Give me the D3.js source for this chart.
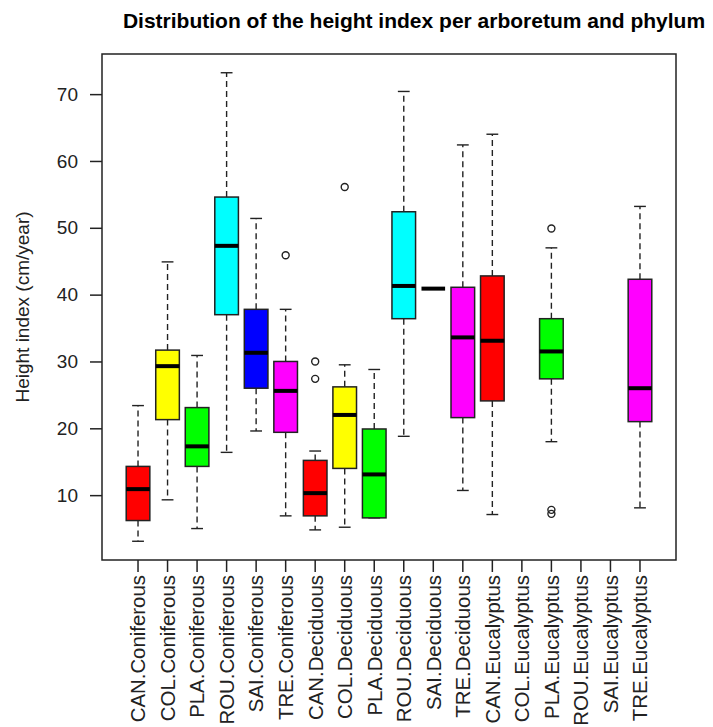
<!DOCTYPE html>
<html>
<head>
<meta charset="utf-8">
<script src="https://cdn.jsdelivr.net/npm/d3@7"></script>
<style>
  body { margin: 0; background: #fff; }
  svg text { font-family: "Liberation Sans", Arial, sans-serif; fill: #000; }
</style>
</head>
<body>
<div id="chart"></div>
<script>
const categories = [
    "CAN.Coniferous", "COL.Coniferous", "PLA.Coniferous", "ROU.Coniferous", "SAI.Coniferous", "TRE.Coniferous",
    "CAN.Deciduous", "COL.Deciduous", "PLA.Deciduous", "ROU.Deciduous", "SAI.Deciduous", "TRE.Deciduous",
    "CAN.Eucalyptus", "COL.Eucalyptus", "PLA.Eucalyptus", "ROU.Eucalyptus", "SAI.Eucalyptus", "TRE.Eucalyptus"
];
const arboretumColors = { CAN: "#ff0000", COL: "#ffff00", PLA: "#00ff00", ROU: "#00ffff", SAI: "#0000ff", TRE: "#ff00ff" };

// five-number summaries (null = no trees)
const whiskerLow  = [3.1, 9.3, 5.0, 16.4, 19.6, 6.9,   4.8, 5.2, 6.6, 18.8, 40.9, 10.7,   7.1, null, 18.0, null, null, 8.1];
const lowerQuart  = [6.2, 21.3, 14.3, 37.0, 26.0, 19.4, 6.9, 14.0, 6.6, 36.4, 40.9, 21.6,  24.1, null, 27.4, null, null, 21.0];
const medians     = [10.9, 29.3, 17.3, 47.3, 31.3, 25.6, 10.3, 22.0, 13.1, 41.3, 40.9, 33.6, 33.1, null, 31.5, null, null, 26.0];
const upperQuart  = [14.3, 31.7, 23.1, 54.6, 37.8, 30.0, 15.2, 26.2, 19.9, 52.4, 40.9, 41.1, 42.8, null, 36.4, null, null, 42.3];
const whiskerHigh = [23.4, 44.9, 30.9, 73.2, 51.4, 37.8, 16.6, 29.5, 28.8, 70.4, 40.9, 62.4, 64.0, null, 47.0, null, null, 53.2];
const outliers    = [[], [], [], [], [], [45.9], [27.4, 30.0], [56.1], [], [], [], [], [], [], [49.9, 7.8, 7.2], [], [], []];
const yTicks = [10, 20, 30, 40, 50, 60, 70];

const WIDTH = 713;
const HEIGHT = 727;
const PLOT_LEFT = 102;
const PLOT_RIGHT = 676;
const PLOT_TOP = 54;
const PLOT_BOTTOM = 560;
const TICK_LEN = 12;
const FONT_SIZE = 19;

const boxes = categories.map((name, i) => ({
    name,
    color: arboretumColors[name.split(".")[0]],
    lo: whiskerLow[i], q1: lowerQuart[i], med: medians[i], q3: upperQuart[i], hi: whiskerHigh[i],
    out: outliers[i]
}));

const svg = d3.select("#chart").append("svg")
    .attr("width", WIDTH)
    .attr("height", HEIGHT);

// R-style 4% padding around the data range
const allValues = boxes.flatMap(b => b.med == null ? b.out : [b.lo, b.hi, ...b.out]);
const [yMin, yMax] = d3.extent(allValues);
const yPad = (yMax - yMin) * 0.04;

const y = d3.scaleLinear()
    .domain([yMin - yPad, yMax + yPad])
    .range([PLOT_BOTTOM, PLOT_TOP]);

const x = d3.scaleBand()
    .domain(categories)
    .range([PLOT_LEFT, PLOT_RIGHT])
    .paddingInner(0)
    .paddingOuter(0.72);

const xc = name => x(name) + x.bandwidth() / 2;
const boxW = x.bandwidth() * 0.8;

svg.append("text")
    .attr("x", 414)
    .attr("y", 28)
    .attr("text-anchor", "middle")
    .style("font-size", "21px")
    .style("font-weight", "bold")
    .text("Distribution of the height index per arboretum and phylum");

// y axis
const yAxis = svg.append("g")
    .attr("transform", `translate(${PLOT_LEFT},0)`)
    .call(d3.axisLeft(y).tickValues(yTicks).tickSize(TICK_LEN).tickPadding(12).tickSizeOuter(0));
yAxis.select(".domain").remove();
yAxis.selectAll("line").attr("stroke", "#222").attr("stroke-width", 1.5);
yAxis.selectAll("text").style("font-size", FONT_SIZE + "px").style("fill", "#222");

// x axis
const xAxis = svg.append("g")
    .attr("transform", `translate(0,${PLOT_BOTTOM})`)
    .call(d3.axisBottom(x).tickSize(TICK_LEN).tickSizeOuter(0));
xAxis.select(".domain").remove();
xAxis.selectAll("line").attr("stroke", "#222").attr("stroke-width", 1.5);
xAxis.selectAll("text")
    .attr("transform", "rotate(-90)")
    .attr("x", -15)
    .attr("y", 0)
    .attr("dy", "0.36em")
    .attr("text-anchor", "end")
    .style("font-size", "20.4px")
    .style("fill", "#222");

svg.append("text")
    .attr("transform", `translate(29,${(PLOT_TOP + PLOT_BOTTOM) / 2}) rotate(-90)`)
    .attr("text-anchor", "middle")
    .style("font-size", FONT_SIZE + "px")
    .style("fill", "#222")
    .text("Height index (cm/year)");

// plot frame
svg.append("rect")
    .attr("x", PLOT_LEFT)
    .attr("y", PLOT_TOP)
    .attr("width", PLOT_RIGHT - PLOT_LEFT)
    .attr("height", PLOT_BOTTOM - PLOT_TOP)
    .attr("fill", "none")
    .attr("stroke", "#222")
    .attr("stroke-width", 1.5);

const groups = svg.selectAll(".box")
    .data(boxes.filter(b => b.med != null))
    .join("g")
    .attr("class", "box");

// whiskers
groups.selectAll(".whisker")
    .data(b => [[b, b.q3, b.hi], [b, b.q1, b.lo]])
    .join("line")
    .attr("class", "whisker")
    .attr("x1", d => xc(d[0].name))
    .attr("x2", d => xc(d[0].name))
    .attr("y1", d => y(d[1]))
    .attr("y2", d => y(d[2]))
    .attr("stroke", "#222")
    .attr("stroke-width", 1.4)
    .attr("stroke-dasharray", "6,4");

groups.selectAll(".staple")
    .data(b => [[b, b.hi], [b, b.lo]])
    .join("line")
    .attr("class", "staple")
    .attr("x1", d => xc(d[0].name) - boxW / 4)
    .attr("x2", d => xc(d[0].name) + boxW / 4)
    .attr("y1", d => y(d[1]))
    .attr("y2", d => y(d[1]))
    .attr("stroke", "#222")
    .attr("stroke-width", 1.4);

groups.append("rect")
    .attr("x", b => xc(b.name) - boxW / 2)
    .attr("y", b => y(b.q3))
    .attr("width", boxW)
    .attr("height", b => y(b.q1) - y(b.q3))
    .attr("fill", b => b.color)
    .attr("stroke", b => b.q3 === b.q1 ? "none" : "#222")
    .attr("stroke-width", 1.5);

groups.append("line")
    .attr("x1", b => xc(b.name) - boxW / 2)
    .attr("x2", b => xc(b.name) + boxW / 2)
    .attr("y1", b => y(b.med))
    .attr("y2", b => y(b.med))
    .attr("stroke", "#000")
    .attr("stroke-width", 4);

groups.selectAll(".outlier")
    .data(b => b.out.map(v => [b, v]))
    .join("circle")
    .attr("class", "outlier")
    .attr("cx", d => xc(d[0].name))
    .attr("cy", d => y(d[1]))
    .attr("r", 3.5)
    .attr("fill", "none")
    .attr("stroke", "#222")
    .attr("stroke-width", 1.4);
</script>
</body>
</html>
